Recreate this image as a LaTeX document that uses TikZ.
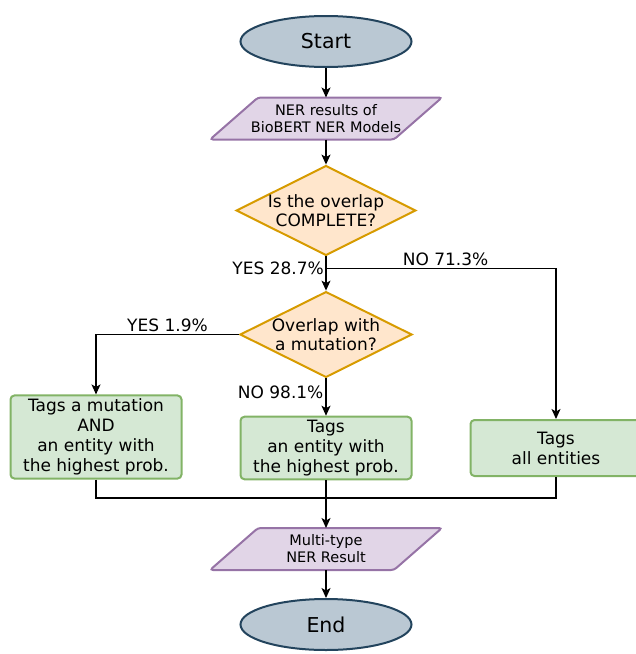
\documentclass[tikz,border=0pt]{standalone}
\usepackage{fontspec}
\setmainfont{DejaVu Sans}
\usetikzlibrary{arrows.meta,shapes.geometric,positioning,backgrounds}

\definecolor{termfill}{HTML}{BAC8D3}
\definecolor{termline}{HTML}{23445D}
\definecolor{iofill}{HTML}{E1D5E7}
\definecolor{ioline}{HTML}{9673A6}
\definecolor{decfill}{HTML}{FFE6CC}
\definecolor{decline}{HTML}{D79B00}
\definecolor{procfill}{HTML}{D5E8D4}
\definecolor{procline}{HTML}{82B366}

% slanted outline behind an io node
\newcommand{\ioshape}[1]{\draw[iopath] ([xshift=-24pt]#1.south west) -- ([xshift=-24pt]#1.south east) -- ([xshift=24pt]#1.north east) -- ([xshift=24pt]#1.north west) -- cycle;}

\begin{document}
\begin{tikzpicture}[x=1pt,y=1pt,>={Stealth[length=10pt,width=9pt,inset=2.5pt]},node distance=100pt,on grid,auto]
       \tikzstyle{term}=[ellipse,draw=termline,fill=termfill,line width=2pt,minimum width=171pt,minimum height=51pt,font=\fontsize{20.5}{24}\selectfont]
       \tikzstyle{io}=[rectangle,outer sep=0pt,minimum width=184pt,minimum height=42pt,align=center,font=\fontsize{14.5}{17}\selectfont]
       \tikzstyle{iopath}=[draw=ioline,fill=iofill,line width=2pt,rounded corners=3pt]
       \tikzstyle{decision}=[diamond,aspect=2,draw=decline,fill=decfill,line width=2pt,inner sep=0pt,minimum width=172pt,minimum height=84pt,align=center,font=\fontsize{17}{18.5}\selectfont]
       \tikzstyle{process}=[rectangle,rounded corners=4pt,draw=procline,fill=procfill,line width=2pt,minimum width=171pt,minimum height=56pt,align=center,font=\fontsize{17}{20}\selectfont]
       \tikzstyle{flow}=[draw,line width=1.2pt]
       \tikzstyle{lbl}=[inner sep=2pt,font=\fontsize{17}{20}\selectfont]

       \useasboundingbox (0,0) rectangle (636,-654);

       \node[term]     (start)                           at (326,-41.5) {Start};
       \node[io]       (ner)      [below=77pt of start]  {NER results of\\BioBERT NER Models};
       \node[decision] (overlap)  [below=92pt of ner]    {Is the overlap\\COMPLETE?};
       \node[decision] (mutation) [below=124pt of overlap] {Overlap with\\a mutation?};
       \node[process]  (tagone)   [below=113.5pt of mutation] {Tags\\an entity with\\the highest prob.};
       \node[process,minimum height=78pt] (tagmut) [left=230pt of tagone,yshift=11pt] {Tags a mutation\\AND\\an entity with\\the highest prob.};
       \node[process]  (tagall)   [right=230pt of tagone] {Tags\\all entities};
       \node[io]       (result)   [below=101pt of tagone] {Multi-type\\NER Result};
       \node[term]     (stop)     [below=75.5pt of result] {End};
       \path (overlap) ++(0,-58) coordinate (split);
       \path (tagone) ++(0,-50) coordinate (merge);

       \begin{scope}[on background layer]
         \ioshape{ner}
         \ioshape{result}
       \end{scope}

       \path[flow,->]
       (start) edge (ner)
       (ner)   edge (overlap)
       (overlap) edge (mutation)
       (mutation) edge node[lbl,left,pos=0.36] (no2) {NO 98.1\%} (tagone)
       (tagone) edge (result)
       (result) edge (stop);

       \node[lbl,anchor=east] (yes1) at (split) {YES 28.7\%};
       \draw[flow,->] (split) -| node[lbl,above,pos=0.26] (no1) {NO 71.3\%} (tagall);
       \draw[flow,->] (mutation.west) -| node[lbl,above,pos=0.25] (yes2) {YES 1.9\%} (tagmut);
       \draw[flow] (tagmut.south) |- (merge) -| (tagall.south);
     \end{tikzpicture}
\end{document}
